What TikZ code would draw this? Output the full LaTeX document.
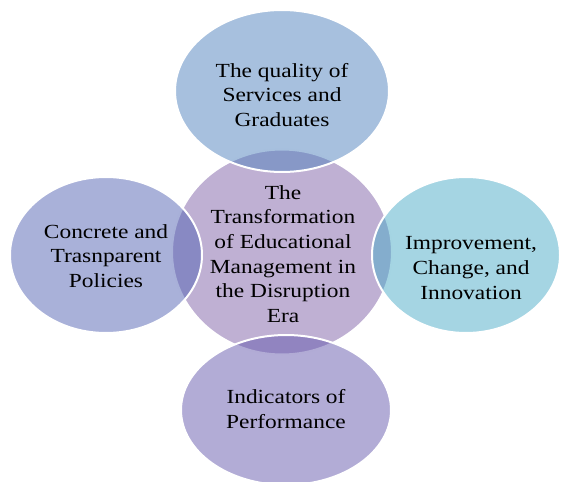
\documentclass[tikz,border=0pt]{standalone}
\usepackage{fontspec}
\setmainfont{Liberation Serif}[FakeStretch=1.17]
\usetikzlibrary{shapes.geometric}
\definecolor{centrecol}{RGB}{127,97,167}
\definecolor{topcol}{RGB}{79,129,189}
\definecolor{leftcol}{RGB}{83,99,179}
\definecolor{rightcol}{RGB}{75,171,199}
\definecolor{bottomcol}{RGB}{101,89,173}
\tikzstyle{bubble} = [ellipse, inner sep = 0pt, draw = white, 
	line width = 2pt, fill opacity = 0.5]
\tikzstyle{caption} = [align = center, text = black, 
	font = \fontsize{20}{24.6}\selectfont]

\begin{document}
\begin{tikzpicture}[x = 1pt, y = -1pt]
\useasboundingbox (0,0) rectangle (561,481);

% centre first, the four around it on top
\node (C) [bubble, fill = centrecol, minimum width = 220pt, 
	minimum height = 205pt] at (282,252) {};

\node (T) [bubble, fill = topcol, minimum width = 214pt, 
	minimum height = 162pt] at (282,91) {};
\node (L) [bubble, fill = leftcol, minimum width = 192pt, 
	minimum height = 156pt] at (106,255) {};
\node (R) [bubble, fill = rightcol, minimum width = 188pt, 
	minimum height = 156pt] at (466,255) {};
\node (B) [bubble, fill = bottomcol, minimum width = 210pt, 
	minimum height = 150pt] at (286,410) {};

\node (CT) [caption] at (283,254) {The\\Transformation\\of Educational\\Management in\\the Disruption\\Era};
\node (TT) [caption] at (282,95) {The quality of\\Services and\\Graduates};
\node (LT) [caption] at (106,256) {Concrete and\\Trasnparent\\Policies};
\node (RT) [caption] at (471,268) {Improvement,\\Change, and\\Innovation};
\node (BT) [caption] at (286,409) {Indicators of\\Performance};
\end{tikzpicture}
\end{document}
